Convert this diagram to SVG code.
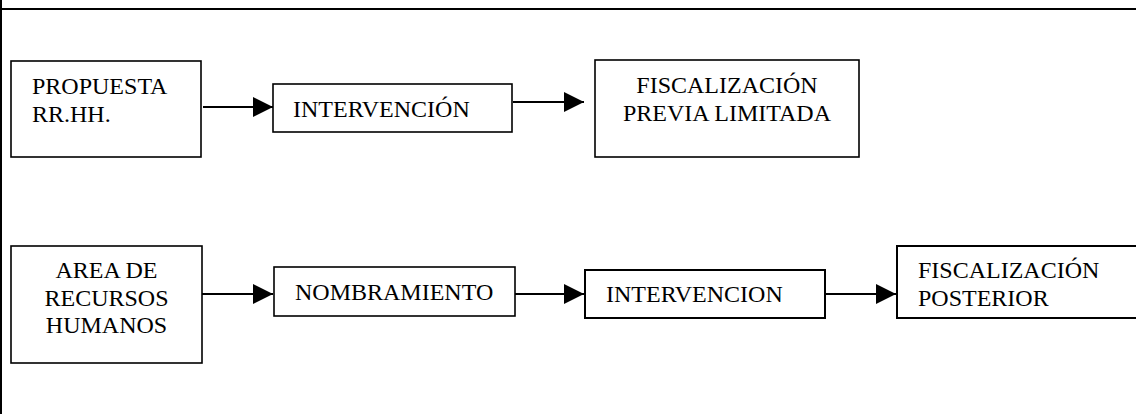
<svg xmlns="http://www.w3.org/2000/svg" width="1136" height="414" viewBox="0 0 1136 414">
<defs>
<marker id="ah" markerWidth="20" markerHeight="20" refX="20" refY="10" orient="auto" markerUnits="userSpaceOnUse">
<path d="M0,0 L20,10 L0,20 Z" fill="#000"/>
</marker>
<style>
.box{fill:#fff;stroke:#000;stroke-width:1.6}
.bx2{fill:#fff;stroke:#000;stroke-width:2}
.t{font-family:"Liberation Serif","Times New Roman",serif;font-size:24px;fill:#000}
.c{text-anchor:middle}
.edge{stroke:#000;stroke-width:2;fill:none;marker-end:url(#ah)}
</style>
</defs>
<rect x="0" y="0" width="1136" height="414" fill="#fff"/>
<g id="frame">
<line x1="0" y1="9" x2="1136" y2="9" stroke="#000" stroke-width="2"/>
<line x1="1" y1="0" x2="1" y2="414" stroke="#000" stroke-width="2"/>
</g>
<g id="n1">
<rect class="box" x="11" y="61" width="190" height="96"/>
<text class="t" x="32" y="94">PROPUESTA</text>
<text class="t" x="32" y="122">RR.HH.</text>
</g>
<g id="n2">
<rect class="box" x="273" y="84" width="239" height="48"/>
<text class="t" x="293" y="117">INTERVENCIÓN</text>
</g>
<g id="n3">
<rect class="box" x="595" y="60" width="264" height="97"/>
<text class="t c" x="727" y="93">FISCALIZACIÓN</text>
<text class="t c" x="727" y="121">PREVIA LIMITADA</text>
</g>
<g id="n4">
<rect class="box" x="11" y="246" width="191" height="117"/>
<text class="t c" x="106.5" y="278">AREA DE</text>
<text class="t c" x="106.5" y="306">RECURSOS</text>
<text class="t c" x="106.5" y="333">HUMANOS</text>
</g>
<g id="n5">
<rect class="box" x="274" y="267" width="241" height="49"/>
<text class="t" x="295" y="300">NOMBRAMIENTO</text>
</g>
<g id="n6">
<rect class="bx2" x="585" y="270" width="240" height="48"/>
<text class="t" x="606" y="302">INTERVENCION</text>
</g>
<g id="n7">
<rect class="bx2" x="897" y="246" width="260" height="72"/>
<text class="t" x="918" y="278">FISCALIZACIÓN</text>
<text class="t" x="918" y="306">POSTERIOR</text>
</g>
<g id="connectors">
<line class="edge" x1="203" y1="107" x2="273" y2="107"/>
<line class="edge" x1="513" y1="102" x2="584" y2="102"/>
<line class="edge" x1="202" y1="294" x2="273" y2="294"/>
<line class="edge" x1="515" y1="294" x2="584" y2="294"/>
<line class="edge" x1="825" y1="294" x2="896" y2="294"/>
</g>
</svg>
